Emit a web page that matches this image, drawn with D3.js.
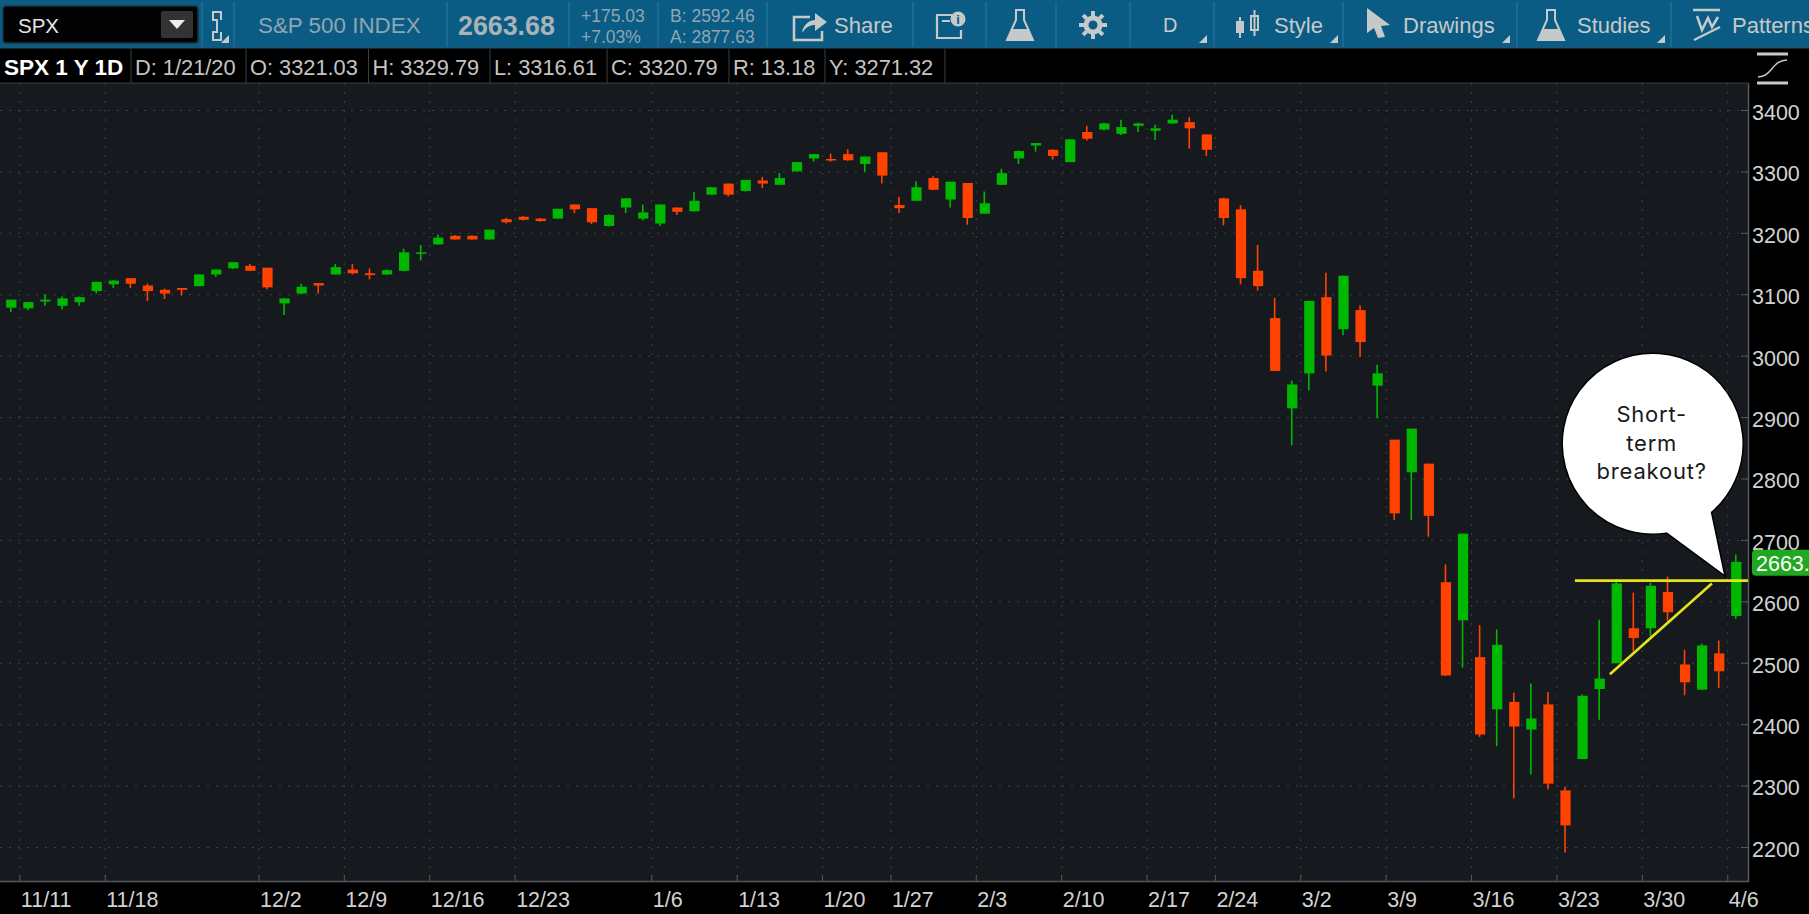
<!DOCTYPE html>
<html>
<head>
<meta charset="utf-8">
<script src="https://cdn.jsdelivr.net/npm/d3@7"></script>
<style>
    html, body { margin: 0; padding: 0; background: #000; overflow: hidden; }
    svg { display: block; font-family: "Liberation Sans", Arial, sans-serif; }
</style>
</head>
<body>
<script>
const [width, height] = [1809, 914]

// trading days, 11/8/19 - 4/6/20
const dates = [
    '11/8',
    '11/11','11/12','11/13','11/14','11/15','11/18','11/19','11/20','11/21','11/22',
    '11/25','11/26','11/27','11/29',
    '12/2','12/3','12/4','12/5','12/6','12/9','12/10','12/11','12/12','12/13',
    '12/16','12/17','12/18','12/19','12/20','12/23','12/24','12/26','12/27',
    '12/30','12/31','1/2','1/3',
    '1/6','1/7','1/8','1/9','1/10','1/13','1/14','1/15','1/16','1/17',
    '1/21','1/22','1/23','1/24','1/27','1/28','1/29','1/30','1/31',
    '2/3','2/4','2/5','2/6','2/7','2/10','2/11','2/12','2/13','2/14',
    '2/18','2/19','2/20','2/21','2/24','2/25','2/26','2/27','2/28',
    '3/2','3/3','3/4','3/5','3/6','3/9','3/10','3/11','3/12','3/13',
    '3/16','3/17','3/18','3/19','3/20','3/23','3/24','3/25','3/26','3/27',
    '3/30','3/31','4/1','4/2','4/3','4/6'
]

const opens = [
    3079,3078,3089,3082,3088,3106,3117,3127,3115,3108,3111,3114,3133,3143,3147,
    3144,3086,3102,3119,3133,3141,3135,3133,3139,3169,3182,3196,3196,3190,3223,
    3227,3224,3224,3247,3241,3212,3242,3224,3216,3242,3236,3263,3281,3269,3286,
    3279,3301,3322,3321.03,3329,3313,3332,3246,3253,3290,3255,3282,3232,3279,3322,
    3343,3336,3316,3365,3369,3362,3375,3367,3379,3381,3361,3257,3239,3139,3062,
    2915,2972,3096,3044,3075,2952,2864,2811,2825,2632,2570,2510,2425,2437,2392,
    2433,2293,2344,2458,2500,2557,2557,2616,2498,2457,2516,2577
]
const closes = [
    3092,3088,3092,3094,3096,3121,3123,3118,3106,3102,3108,3133,3141,3153,3139,
    3112,3094,3113,3115,3145,3135,3132,3140,3169,3169,3193,3190,3190,3206,3218,
    3222,3220,3240,3239,3218,3230,3257,3234,3247,3235,3253,3275,3263,3287,3281,
    3290,3316,3329,3320.79,3319,3325,3294,3241,3275,3271,3284,3225,3249,3298,3334,
    3347,3326,3353,3354,3379,3373,3379,3371,3385,3371,3336,3225,3127,3114,2976,
    2954,3090,3001,3131,3023,2972,2744,2882,2740,2480,2711,2384,2530,2397,2410,
    2304,2236,2447,2475,2630,2541,2626,2583,2469,2529,2487,2665
]
const highs = [
    3092,3088,3101,3097,3097,3121,3124,3127,3118,3110,3111,3133,3141,3153,3150,
    3144,3094,3118,3119,3150,3150,3143,3141,3175,3181,3198,3197,3197,3206,3225,
    3228,3225,3240,3247,3241,3231,3257,3247,3247,3242,3267,3275,3281,3287,3292,
    3298,3316,3329,3329.79,3337,3325,3332,3259,3285,3293,3284,3282,3268,3305,3335,
    3347,3337,3353,3375,3380,3385,3380,3377,3393,3389,3361,3258,3246,3181,3095,
    2960,3090,3136,3131,3083,2986,2864,2882,2825,2661,2711,2562,2555,2452,2467,
    2453,2299,2449,2571,2637,2615,2631,2641,2522,2532,2537,2677
]
const lows = [
    3072,3075,3082,3076,3082,3102,3111,3111,3090,3093,3099,3114,3129,3142,3139,
    3109,3067,3101,3102,3133,3133,3125,3132,3138,3156,3181,3190,3190,3190,3216,
    3221,3219,3224,3233,3215,3211,3233,3221,3212,3230,3235,3263,3260,3268,3274,
    3279,3300,3317,3316.61,3318,3300,3281,3233,3253,3270,3242,3214,3232,3279,3313,
    3333,3320,3316,3351,3368,3360,3365,3352,3378,3338,3326,3213,3117,3107,2976,
    2855,2944,2975,3034,2999,2899,2733,2733,2706,2480,2493,2380,2365,2280,2319,
    2295,2192,2344,2408,2500,2519,2544,2569,2448,2457,2460,2572
]

const priceTicks = [2200,2300,2400,2500,2600,2700,2800,2900,3000,3100,3200,3300,3400]

// tick sits on the first session of the week, label keeps the Monday date
const weekTicks  = ['11/11','11/18','12/2','12/9','12/16','12/23','1/6','1/13','1/21','1/27','2/3','2/10','2/18','2/24','3/2','3/9','3/16','3/23','3/30','4/6']
const weekLabels = ['11/11','11/18','12/2','12/9','12/16','12/23','1/6','1/13','1/20','1/27','2/3','2/10','2/17','2/24','3/2','3/9','3/16','3/23','3/30','4/6']

const lastPrice = 2663.68
// off = how far past the date's grid line, in bars
const resistance = [{d: '3/24', p: 2634.5, off: 0.05}, {d: '4/6', p: 2634.5, off: 1.18}]
const support    = [{d: '3/26', p: 2482, off: 0.1}, {d: '4/3', p: 2630, off: 0.07}]
const calloutLines = ['Short-', 'term', 'breakout?']

const infoCells = ['D: 1/21/20','O: 3321.03','H: 3329.79','L: 3316.61','C: 3320.79','R: 13.18','Y: 3271.32']

const plot = {left: 0, right: 1748, top: 83, bottom: 881}

const green = '#00b800', red = '#ff4200', yellow = '#e4e41e'

const svg = d3.select('body')
    .append('svg')
        .attr('width', width)
        .attr('height', height)

svg.append('rect').attr('width', width).attr('height', height).attr('fill', '#000')

svg.append('rect')
    .attr('x', plot.left).attr('y', plot.top)
    .attr('width', plot.right - plot.left).attr('height', plot.bottom - plot.top)
    .attr('fill', '#161a1f')

const x = d3.scaleBand()
    .domain(dates)
    .range([2.76, 1744.84])
    .paddingInner(0.4)
    .paddingOuter(0.2)

const y = d3.scaleLinear()
    .domain([2200, 3400])
    .range([847.5, 110.5])

const cx = d => x(d) + x.bandwidth() / 2
const gridX = d => cx(d) - x.step() / 2

// grid
svg.append('g').selectAll('line')
    .data(priceTicks)
    .enter()
    .append('line')
        .attr('x1', plot.left).attr('x2', plot.right)
        .attr('y1', d => y(d)).attr('y2', d => y(d))
        .attr('stroke', '#3d4248')
        .attr('stroke-width', 1)
        .attr('stroke-dasharray', '2,7')

svg.append('g').selectAll('line')
    .data(weekTicks)
    .enter()
    .append('line')
        .attr('x1', d => gridX(d)).attr('x2', d => gridX(d))
        .attr('y1', plot.top).attr('y2', plot.bottom)
        .attr('stroke', '#3d4248')
        .attr('stroke-width', 1)
        .attr('stroke-dasharray', '2,7')

// candles
const candles = dates.map((d, i) => ({d, o: opens[i], h: highs[i], l: lows[i], c: closes[i]}))

const candle = svg.append('g').selectAll('g')
    .data(candles)
    .enter()
    .append('g')
        .attr('fill', d => d.c >= d.o ? green : red)
        .attr('stroke', d => d.c >= d.o ? green : red)

candle.append('line')
    .attr('x1', d => cx(d.d) - 0.5).attr('x2', d => cx(d.d) - 0.5)
    .attr('y1', d => y(d.h)).attr('y2', d => y(d.l))
    .attr('stroke-width', 1.6)

candle.append('rect')
    .attr('x', d => x(d.d))
    .attr('width', x.bandwidth())
    .attr('y', d => y(Math.max(d.o, d.c)))
    .attr('height', d => Math.max(1.5, Math.abs(y(d.o) - y(d.c))))
    .attr('stroke', 'none')

// frame
svg.append('line').attr('x1', plot.right + 0.5).attr('x2', plot.right + 0.5).attr('y1', plot.top).attr('y2', plot.bottom + 1).attr('stroke', '#55595c').attr('stroke-width', 1.5)
svg.append('line').attr('x1', 0).attr('x2', plot.right + 1).attr('y1', plot.bottom + 0.5).attr('y2', plot.bottom + 0.5).attr('stroke', '#55595c').attr('stroke-width', 1.5)

// axes
const yAxis = svg.append('g')
    .attr('transform', `translate(${plot.right},0)`)
    .call(d3.axisRight(y).tickValues(priceTicks).tickSize(0).tickPadding(4).tickFormat(d3.format('d')))
yAxis.select('.domain').remove()
yAxis.selectAll('text')
    .attr('fill', '#d2d2d2')
    .attr('font-size', 21.5)
    .attr('font-family', '"Liberation Sans", Arial, sans-serif')
    .attr('transform', 'translate(0,2)')

svg.append('g').selectAll('line')
    .data(priceTicks)
    .enter()
    .append('line')
        .attr('x1', plot.right - 7).attr('x2', plot.right)
        .attr('y1', d => y(d)).attr('y2', d => y(d))
        .attr('stroke', '#55595c')

const xAxis = svg.append('g')
    .attr('transform', `translate(${-x.step() / 2},${plot.bottom})`)
    .call(d3.axisBottom(x).tickValues(weekTicks).tickSize(-6).tickFormat(d => weekLabels[weekTicks.indexOf(d)]))
xAxis.select('.domain').remove()
xAxis.selectAll('line').attr('stroke', '#55595c')
xAxis.selectAll('text')
    .attr('fill', '#d2d2d2')
    .attr('font-size', 21.5)
    .attr('font-family', '"Liberation Sans", Arial, sans-serif')
    .attr('text-anchor', 'start')
    .attr('x', 1)
    .attr('y', 11)

// trend lines
const trend = d3.line().x(d => gridX(d.d) + d.off * x.step()).y(d => y(d.p))
svg.append('path').attr('d', trend(resistance)).attr('fill', 'none').attr('stroke', yellow).attr('stroke-width', 2.6)
svg.append('path').attr('d', trend(support)).attr('fill', 'none').attr('stroke', yellow).attr('stroke-width', 2.6)

// last price tag, text runs past the window edge on purpose
svg.append('rect')
    .attr('x', 1752).attr('y', y(lastPrice) - 13).attr('width', 70).attr('height', 26).attr('rx', 4)
    .attr('fill', '#21a821')
svg.append('text')
    .attr('x', 1756).attr('y', y(lastPrice) + 8)
    .attr('fill', '#fff').attr('font-size', 21.5)
    .text(lastPrice)

// callout
const bubble = d3.path()
bubble.arc(1652.7, 443.7, 90.5, Math.atan2(513.3 - 443.7, 1712.3 - 1652.7), Math.atan2(534 - 443.7, 1666.7 - 1652.7), true)
bubble.lineTo(1725, 576)
bubble.closePath()
svg.append('path').attr('d', bubble.toString()).attr('fill', '#fff').attr('stroke', '#000').attr('stroke-width', 1.5)

svg.append('g').selectAll('text')
    .data(calloutLines)
    .enter()
    .append('text')
        .attr('x', 1651.7)
        .attr('y', (d, i) => 421.7 + i * 28.8)
        .attr('text-anchor', 'middle')
        .attr('font-family', 'Inter, Lato, sans-serif')
        .attr('font-size', 22)
        .attr('letter-spacing', 0.8)
        .attr('fill', '#1a1a1a')
        .text(d => d)

// info strip
const strip = svg.append('g')
strip.append('rect').attr('x', 0).attr('y', 48).attr('width', plot.right + 60).attr('height', 35).attr('fill', '#000')
strip.append('line').attr('x1', 0).attr('x2', plot.right).attr('y1', 83).attr('y2', 83).attr('stroke', '#3b3f42')
strip.append('text')
    .attr('x', 4).attr('y', 74.5)
    .attr('fill', '#fff').attr('font-size', 22.5).attr('font-weight', 'bold')
    .text('SPX 1 Y 1D')

const cellEdges = [131, 246, 368.5, 490, 607, 729, 825, 945]
strip.selectAll('.sep').data(cellEdges).enter().append('line')
    .attr('class', 'sep')
    .attr('x1', d => d).attr('x2', d => d).attr('y1', 49).attr('y2', 83)
    .attr('stroke', '#3b3f42')
strip.selectAll('.cell').data(infoCells).enter().append('text')
    .attr('class', 'cell')
    .attr('x', (d, i) => cellEdges[i] + 4).attr('y', 74.5)
    .attr('fill', '#c4c4c4').attr('font-size', 21.8)
    .text(d => d)

// scale toggle icon
const ico = svg.append('g').attr('stroke', '#c9c9c9').attr('fill', 'none')
ico.append('line').attr('x1', 1757).attr('x2', 1788).attr('y1', 54).attr('y2', 54).attr('stroke-width', 3)
ico.append('line').attr('x1', 1757).attr('x2', 1788).attr('y1', 83).attr('y2', 83).attr('stroke-width', 3)
ico.append('path').attr('d', 'M1758,77 C1772,77 1772,60 1787,60').attr('stroke-width', 1.5)

// toolbar
const tb = svg.append('g')
tb.append('rect').attr('width', width).attr('height', 48).attr('fill', '#0b5c84')
tb.append('line').attr('x1', 0).attr('x2', width).attr('y1', 48).attr('y2', 48).attr('stroke', '#2c5266')

const toolbarSeps = [202, 234, 447, 569, 658, 767, 913, 986, 1056, 1130, 1214, 1343, 1517, 1671]
tb.selectAll('.tsep').data(toolbarSeps).enter().append('line')
    .attr('class', 'tsep')
    .attr('x1', d => d).attr('x2', d => d).attr('y1', 2).attr('y2', 47)
    .attr('stroke', '#2a7ba3')

tb.append('rect').attr('x', 3).attr('y', 6).attr('width', 195).attr('height', 37).attr('rx', 3).attr('fill', '#030303').attr('stroke', '#1b3443').attr('stroke-width', 1.5)
tb.append('rect').attr('x', 161).attr('y', 11).attr('width', 32).attr('height', 27).attr('rx', 2).attr('fill', '#333')
tb.append('path').attr('d', 'M169,20 L185,20 L177,29 Z').attr('fill', '#eee')

const toolbarTexts = [
    {t: 'SPX', x: 18, y: 33, size: 20.5, fill: '#e4e4e4'},
    {t: 'S&P 500 INDEX', x: 258, y: 33, size: 22.4, fill: '#8fa6b2'},
    {t: '2663.68', x: 458, y: 35, size: 26.8, fill: '#a8b2b7', weight: 'bold'},
    {t: '+175.03', x: 581, y: 22, size: 17.5, fill: '#8fa6b2'},
    {t: '+7.03%', x: 581, y: 43, size: 17.5, fill: '#8fa6b2'},
    {t: 'B: 2592.46', x: 670, y: 22, size: 17.5, fill: '#8fa6b2'},
    {t: 'A: 2877.63', x: 670, y: 43, size: 17.5, fill: '#8fa6b2'},
    {t: 'Share', x: 834, y: 33, size: 22, fill: '#c6c9ca'},
    {t: 'D', x: 1163, y: 32, size: 20, fill: '#c6c9ca'},
    {t: 'Style', x: 1274, y: 33, size: 22, fill: '#c6c9ca'},
    {t: 'Drawings', x: 1403, y: 33, size: 22, fill: '#c6c9ca'},
    {t: 'Studies', x: 1577, y: 33, size: 22, fill: '#c6c9ca'},
    {t: 'Patterns', x: 1732, y: 33, size: 22, fill: '#c6c9ca'}
]
tb.selectAll('.ttext').data(toolbarTexts).enter().append('text')
    .attr('class', 'ttext')
    .attr('x', d => d.x).attr('y', d => d.y)
    .attr('font-size', d => d.size)
    .attr('font-weight', d => d.weight || 'normal')
    .attr('fill', d => d.fill)
    .text(d => d.t)

// corner triangles on the dropdown buttons
const corners = [229, 1207, 1338, 1510, 1665]
tb.selectAll('.corner').data(corners).enter().append('path')
    .attr('class', 'corner')
    .attr('d', d => `M${d},35 L${d},43 L${d - 8},43 Z`)
    .attr('fill', '#c6c9ca')

// toolbar icons
const iconColor = '#c6c9ca'
// link
tb.append('path').attr('d', 'M218,20 H213 V12 H221 V20 M218,32 H213 V40 H221 V32 M217,20 V32').attr('fill', 'none').attr('stroke', iconColor).attr('stroke-width', 2)
// share
tb.append('path').attr('d', 'M810,17 H794 V40 H822 V31').attr('fill', 'none').attr('stroke', iconColor).attr('stroke-width', 2.5)
tb.append('path').attr('d', 'M802,33 C803,24 810,20 815,20 V13 L827,22 L815,31 V25 C810,25 806,27 802,33 Z').attr('fill', iconColor)
// note
tb.append('path').attr('d', 'M952,15 H937 V38 H961 V30').attr('fill', 'none').attr('stroke', iconColor).attr('stroke-width', 2.2)
tb.append('path').attr('d', 'M942,21 H950').attr('stroke', iconColor).attr('stroke-width', 2)
tb.append('circle').attr('cx', 958).attr('cy', 19).attr('r', 7.5).attr('fill', iconColor)
tb.append('text').attr('x', 958).attr('y', 24).attr('text-anchor', 'middle').attr('font-size', 13).attr('font-weight', 'bold').attr('fill', '#0b5c84').text('i')
// flasks
const flask = xc => `M${xc - 4},10 H${xc + 4} V20 L${xc + 13},40 H${xc - 13} L${xc - 4},20 Z`
tb.selectAll('.flask').data([1020, 1551]).enter().append('path')
    .attr('class', 'flask')
    .attr('d', d => flask(d))
    .attr('fill', 'none').attr('stroke', iconColor).attr('stroke-width', 2)
tb.selectAll('.flaskfill').data([1020, 1551]).enter().append('path')
    .attr('class', 'flaskfill')
    .attr('d', d => `M${d - 8},29 H${d + 8} L${d + 13},40 H${d - 13} Z`)
    .attr('fill', iconColor)
// gear
tb.append('circle').attr('cx', 1093).attr('cy', 25).attr('r', 7).attr('fill', 'none').attr('stroke', iconColor).attr('stroke-width', 5)
tb.selectAll('.tooth').data(d3.range(0, 360, 45)).enter().append('line')
    .attr('class', 'tooth')
    .attr('x1', 1093).attr('x2', 1093).attr('y1', 11).attr('y2', 16)
    .attr('transform', d => `rotate(${d},1093,25)`)
    .attr('stroke', iconColor).attr('stroke-width', 4)
// style candles
tb.append('rect').attr('x', 1236).attr('y', 21).attr('width', 8).attr('height', 12).attr('fill', iconColor)
tb.append('rect').attr('x', 1251).attr('y', 16).attr('width', 7).attr('height', 14).attr('fill', 'none').attr('stroke', iconColor).attr('stroke-width', 2)
tb.append('path').attr('d', 'M1240,17 V38 M1254.5,10 V36').attr('stroke', iconColor).attr('stroke-width', 2)
// cursor
tb.append('path').attr('d', 'M1367,8 L1390,25 L1381,26 L1385,37 L1378,38 L1374,28 L1367,33 Z').attr('fill', iconColor)
// patterns
tb.append('path').attr('d', 'M1693,10 H1720 M1697,16 L1702,30 L1708,18 L1712,27 L1718,17 M1694,40 L1720,27').attr('fill', 'none').attr('stroke', iconColor).attr('stroke-width', 2.5)
</script>
</body>
</html>
